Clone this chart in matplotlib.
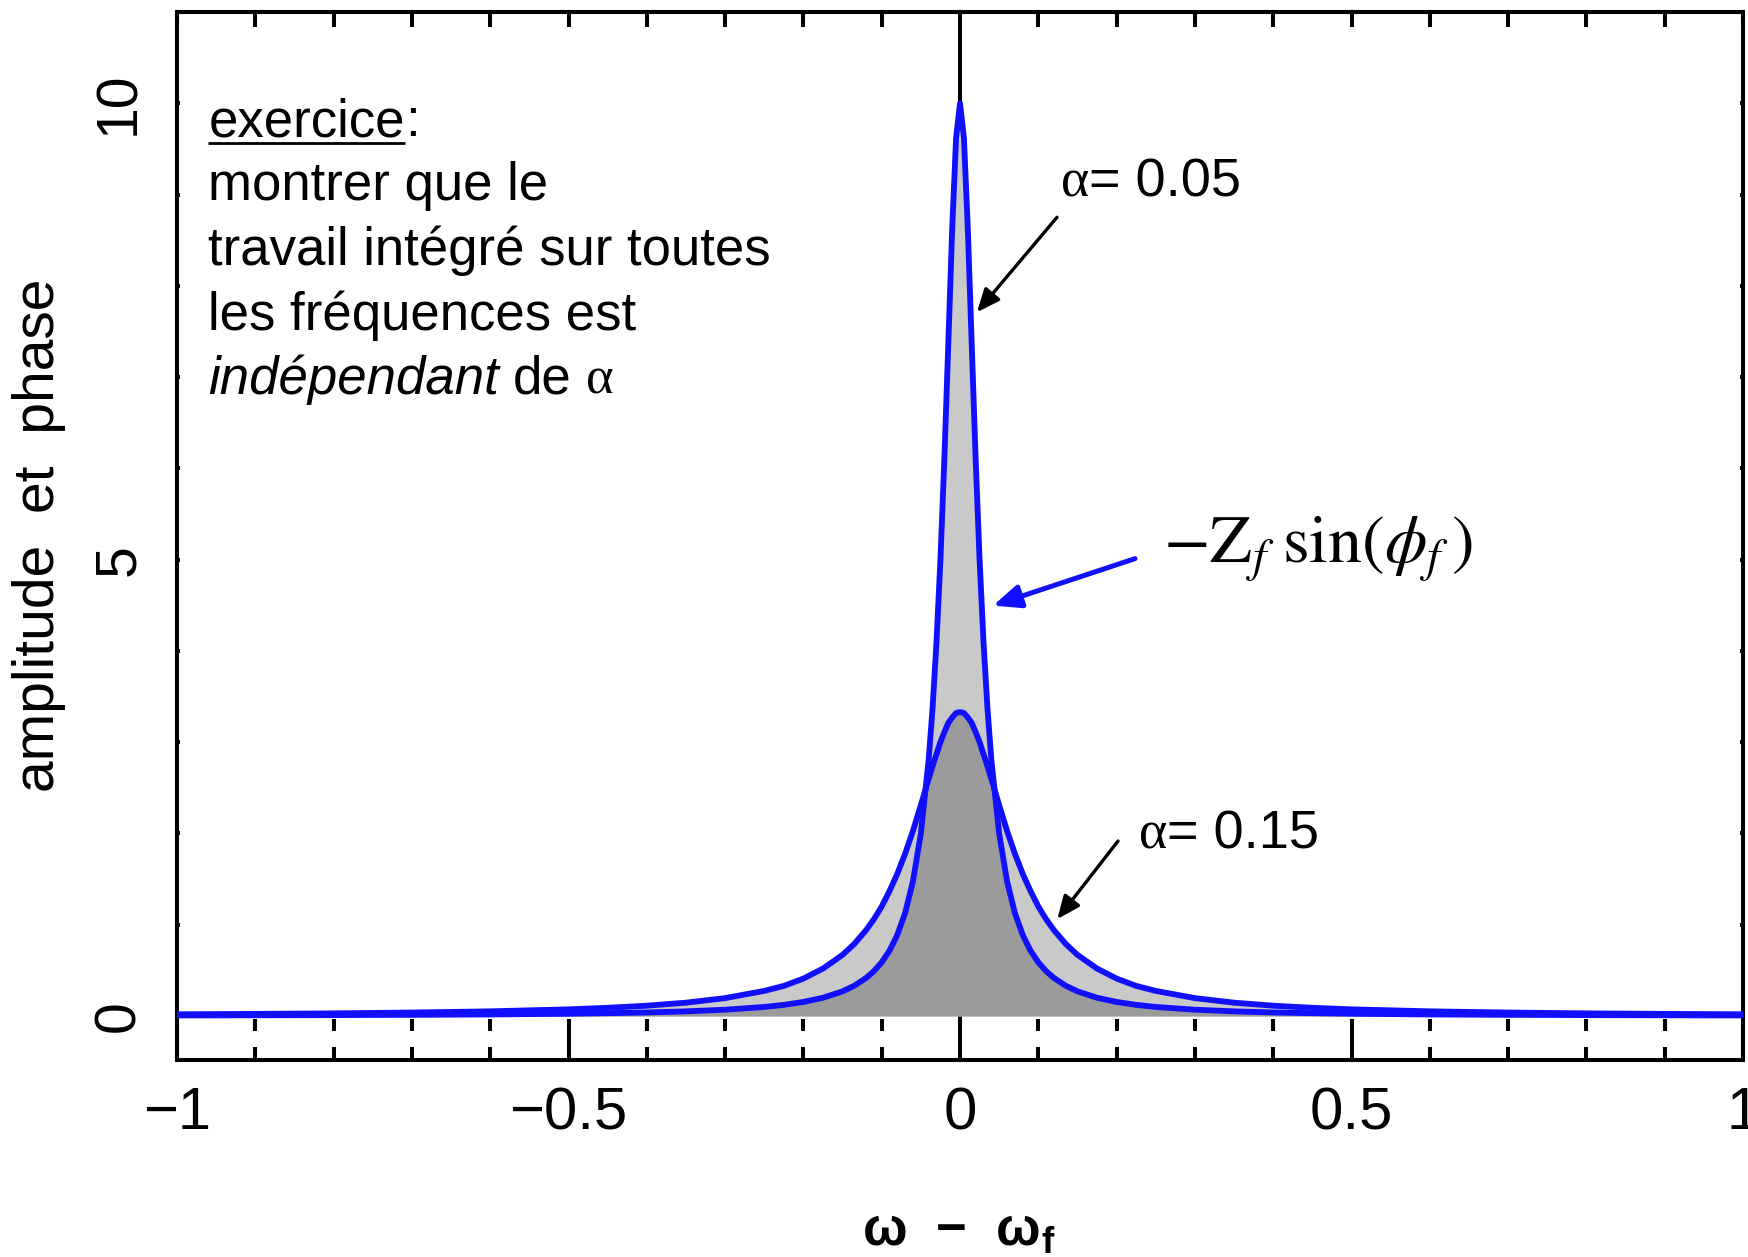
"""Two resonance curves -Z_f sin(phi_f) for alpha = 0.05 and alpha = 0.15."""

import numpy as np
import matplotlib

matplotlib.use("Agg")
import matplotlib.pyplot as plt
from matplotlib.ticker import MultipleLocator

plt.rcParams["font.family"] = ["Liberation Sans", "DejaVu Sans"]

# half-profiles; both curves are symmetric about 0
offset = [0, 0.005, 0.01, 0.015, 0.02, 0.025, 0.03, 0.035, 0.04,
          0.05, 0.06, 0.07, 0.08, 0.09, 0.1, 0.11, 0.12, 0.135, 0.15,
          0.175, 0.2, 0.225, 0.25, 0.3, 0.35, 0.4, 0.45, 0.5,
          0.6, 0.7, 0.8, 0.9, 1.0]
narrow_alpha005 = [10, 9.62, 8.62, 7.35, 6.10, 5.00, 4.10, 3.38, 2.81,
                   2.00, 1.48, 1.13, 0.89, 0.716, 0.588, 0.491, 0.416, 0.332, 0.270,
                   0.200, 0.154, 0.122, 0.099, 0.069, 0.051, 0.039, 0.031, 0.025,
                   0.017, 0.013, 0.010, 0.008, 0.006]
wide_alpha015 = [3.33, 3.32, 3.27, 3.21, 3.11, 3.00, 2.87, 2.74, 2.60,
                 2.31, 2.03, 1.78, 1.56, 1.37, 1.20, 1.06, 0.94, 0.79, 0.67,
                 0.52, 0.41, 0.33, 0.275, 0.196, 0.146, 0.113, 0.090, 0.073,
                 0.051, 0.038, 0.029, 0.023, 0.019]

x_major = [-1, -0.5, 0, 0.5, 1]
x_major_labels = ["\u22121", "\u22120.5", "0", "0.5", "1"]
y_major = [0, 5, 10]
y_major_labels = ["0", "5", "10"]

exercise_lines = [
    "montrer que le",
    "travail intégré sur toutes",
    "les fréquences est",
]

BLUE = "#1010ff"
LIGHT = "#c9c9c9"
DARK = "#9b9b9b"
LW = 2.9


def mirror(values):
    v = np.asarray(values, dtype=float)
    return np.concatenate([v[::-1], v[1:]])


x = np.concatenate([-np.asarray(offset)[::-1], np.asarray(offset)[1:]])
y_narrow = mirror(narrow_alpha005)
y_wide = mirror(wide_alpha015)

fig = plt.figure(figsize=(17.48, 12.57), dpi=100)
ax = fig.add_axes([0.10126, 0.15672, 0.89588, 0.83373])
ax.set_xlim(-1, 1)
ax.set_ylim(-0.482, 11.0)

ax.axvline(0, color="black", lw=LW, zorder=1)
ax.fill_between(x, 0, np.maximum(y_narrow, y_wide), color=LIGHT, lw=0, zorder=2)
ax.fill_between(x, 0, np.minimum(y_narrow, y_wide), color=DARK, lw=0, zorder=3)
ax.plot(x, y_narrow, color=BLUE, lw=4.2, zorder=4, solid_joinstyle="round")
ax.plot(x, y_wide, color=BLUE, lw=4.2, zorder=4, solid_joinstyle="round")

for side in ax.spines.values():
    side.set_linewidth(LW)

# bottom axis: long majors, short minors
ax.set_xticks(x_major)
ax.set_xticklabels(x_major_labels)
ax.xaxis.set_minor_locator(MultipleLocator(0.1))
ax.tick_params(axis="x", which="major", direction="in", length=29.5, width=LW,
               pad=19, labelsize=43, top=False)
ax.tick_params(axis="x", which="minor", direction="in", length=9.4, width=LW,
               top=False)
minor_x = [t for t in ax.xaxis.get_minorticklocs() if -1 < t < 1]
ax.vlines(minor_x, -0.165, -0.035, color="black", lw=LW, zorder=5)

# top axis ticks
top = ax.secondary_xaxis("top")
top.set_xticks(x_major)
top.xaxis.set_minor_locator(MultipleLocator(0.1))
top.tick_params(which="both", direction="in", length=10.8, width=LW,
                labeltop=False)
top.spines["top"].set_linewidth(LW)

# y axis
ax.set_yticks(y_major)
ax.set_yticklabels(y_major_labels)
ax.yaxis.set_minor_locator(MultipleLocator(1))
ax.tick_params(axis="y", which="both", direction="in", length=2.2, width=LW,
               left=True, right=True)
ax.tick_params(axis="y", which="major", labelsize=41, pad=22, labelrotation=90)
for lab in ax.get_yticklabels():
    lab.set_va("center")

fig.text(0.0223, 0.5744, "amplitude  et  phase", rotation=90,
         ha="center", va="center", fontsize=41)
fig.text(959 / 1748, 1 - 1245 / 1257, "ω  −  ω$_\\mathregular{f}$",
         ha="center", va="baseline", fontsize=38, fontweight="bold")

# explanatory text block
fig.canvas.draw()
renderer = fig.canvas.get_renderer()
to_data = ax.transData.inverted()


def text_run(x0, y0, pieces, size):
    """Place text pieces one after another on a common baseline."""
    cur = x0
    made = []
    for s, gap, kw in pieces:
        t = ax.text(cur, y0, s, ha="left", va="baseline", fontsize=size, **kw)
        bb = t.get_window_extent(renderer=renderer)
        cur = to_data.transform((bb.x1 + gap, bb.y0))[0]
        made.append(t)
    return made


text_x = -0.960
baselines = [9.64, 8.94, 8.23, 7.52, 6.82]
first = text_run(text_x, baselines[0], [("exercice", 0, {}), (":", 0, {})], 38)
bb = first[0].get_window_extent(renderer=renderer)
ux0 = to_data.transform((bb.x0, 0))[0]
ux1 = to_data.transform((bb.x1, 0))[0]
ax.plot([ux0, ux1], [baselines[0] - 0.08] * 2, color="black", lw=2.0,
        zorder=6, solid_capstyle="butt")
for line, yb in zip(exercise_lines, baselines[1:4]):
    ax.text(text_x, yb, line, ha="left", va="baseline", fontsize=38)
text_run(text_x, baselines[4],
         [("indépendant", 14, {"style": "italic"}),
          ("de", 14, {}),
          ("α", 0, {"family": "Liberation Serif"})], 38)

# curve annotations
text_run(0.129, 8.98, [("α", 0, {"family": "Liberation Serif"}),
                       ("= 0.05", 0, {})], 39)
text_run(0.2286, 1.84, [("α", 0, {"family": "Liberation Serif"}),
                        ("= 0.15", 0, {})], 39)
ax.text(0.259, 4.96, r"$-\mathrm{Z}_f\;\mathrm{sin}(\phi_f\,)$",
        ha="left", va="baseline", fontsize=49, math_fontfamily="stix")

black_arrow = dict(arrowstyle="-|>,head_length=0.7,head_width=0.3",
                   color="black", lw=2.4, shrinkA=0, shrinkB=0,
                   mutation_scale=20)
blue_arrow = dict(arrowstyle="-|>,head_length=0.75,head_width=0.32",
                  color=BLUE, lw=3.6, shrinkA=0, shrinkB=0,
                  mutation_scale=22)
ax.annotate("", xy=(0.0217, 7.711), xytext=(0.1239, 8.751),
            arrowprops=black_arrow, zorder=6)
ax.annotate("", xy=(0.1243, 1.062), xytext=(0.2018, 1.917),
            arrowprops=black_arrow, zorder=6)
ax.annotate("", xy=(0.0421, 4.496), xytext=(0.2235, 5.011),
            arrowprops=blue_arrow, zorder=6)

fig.savefig("out.png", dpi=100)
